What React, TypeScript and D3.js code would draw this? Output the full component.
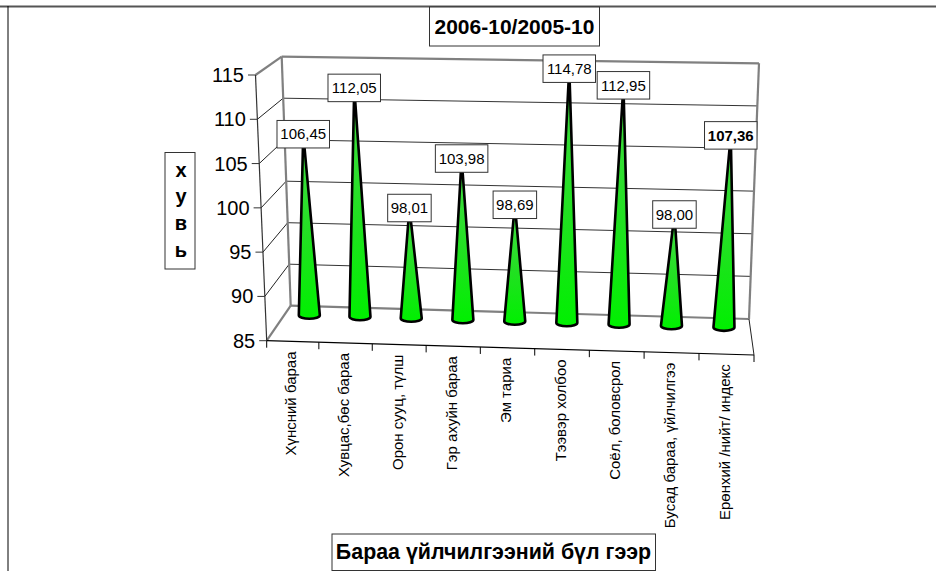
import React, { useEffect, useRef } from 'react';
import * as d3 from 'd3';

const categories = [
  'Хүнсний бараа',
  'Хувцас,бөс бараа',
  'Орон сууц, түлш',
  'Гэр ахуйн бараа',
  'Эм тариа',
  'Тээвэр холбоо',
  'Соёл, боловсрол',
  'Бусад бараа, үйлчилгээ',
  'Ерөнхий /нийт/ индекс',
];
const values = [106.45, 112.05, 98.01, 103.98, 98.69, 114.78, 112.95, 98.0, 107.36];
const valueLabels = ['106,45', '112,05', '98,01', '103,98', '98,69', '114,78', '112,95', '98,00', '107,36'];
const yTicks = [85, 90, 95, 100, 105, 110, 115];
const yTitleLetters = ['х', 'у', 'в', 'ь'];
const chartTitle = '2006-10/2005-10';
const xTitle = 'Бараа үйлчилгээний бүл гээр';

const FONT = '"Liberation Sans", Arial, sans-serif';

const App: React.FC = () => {
  const svgRef = useRef<SVGSVGElement>(null);

  useEffect(() => {
    if (!svgRef.current) return;
    const svg = d3.select(svgRef.current);
    svg.selectAll('*').remove();

    // corners of the 3D box as the picture shows them
    const fl = { b: [266.7, 340.7], t: [255.5, 75] };
    const fr = { b: [754, 355], t: [765, 90] };
    const bl = { b: [290.7, 305.7], t: [281.7, 56.7] };
    const br = { b: [749, 319], t: [759, 63.3] };

    // slight power scale for the perspective of the category axis
    const xScale = d3.scalePow().exponent(1.017).domain([0, categories.length]).range([0, 1]);
    const yScale = d3.scaleLinear().domain([85, 115]).range([0, 1]);
    const mix = d3.interpolateNumber;

    const project = (cat: number, val: number, depth: number): [number, number] => {
      const u = xScale(cat);
      const v = yScale(val);
      const at = (k: number) => {
        const front = mix(mix(fl.b[k], fl.t[k])(v), mix(fr.b[k], fr.t[k])(v))(u);
        const back = mix(mix(bl.b[k], bl.t[k])(v), mix(br.b[k], br.t[k])(v))(u);
        return mix(front, back)(depth);
      };
      return [at(0), at(1)];
    };

    const seg = (a: [number, number], b: [number, number], color: string, w: number) =>
      svg.append('line')
        .attr('x1', a[0]).attr('y1', a[1])
        .attr('x2', b[0]).attr('y2', b[1])
        .attr('stroke', color)
        .attr('stroke-width', w);

    const box = (x: number, y: number, w: number, h: number) =>
      svg.append('rect')
        .attr('x', x).attr('y', y)
        .attr('width', w).attr('height', h)
        .attr('fill', '#fff')
        .attr('stroke', '#333')
        .attr('stroke-width', 1);

    const label = (s: string, x: number, y: number, size: number, bold = false) =>
      svg.append('text')
        .attr('x', x).attr('y', y)
        .attr('text-anchor', 'middle')
        .attr('font-family', FONT)
        .attr('font-size', size)
        .attr('font-weight', bold ? 'bold' : 'normal')
        .attr('fill', '#000')
        .text(s);

    const defs = svg.append('defs');
    const grad = defs.append('linearGradient')
      .attr('id', 'coneFill')
      .attr('x1', 0).attr('y1', 0).attr('x2', 0).attr('y2', 1);
    grad.append('stop').attr('offset', '0%').attr('stop-color', '#46dc46');
    grad.append('stop').attr('offset', '55%').attr('stop-color', '#22e022');
    grad.append('stop').attr('offset', '100%').attr('stop-color', '#00f000');

    // page frame
    seg([0, 6.5], [936, 6.5], '#555', 2);
    seg([8, 6], [8, 571], '#000', 1);

    const n = categories.length;

    // grid lines on the back and side walls
    yTicks.slice(1, -1).forEach(t => {
      seg(project(0, t, 0), project(0, t, 1), '#222', 1);
      seg(project(0, t, 1), project(n, t, 1), '#333', 1);
    });

    // walls and floor
    const wall = '#808080';
    seg(project(0, 115, 0), project(0, 115, 1), wall, 2.2);
    seg(project(0, 115, 1), project(n, 115, 1), wall, 2.2);
    seg(project(0, 85, 1), project(0, 115, 1), wall, 2.2);
    seg(project(n, 85, 1), project(n, 115, 1), wall, 2.2);
    seg(project(0, 85, 0), project(0, 85, 1), wall, 2.2);
    seg(project(0, 85, 1), project(n, 85, 1), wall, 2.2);
    seg(project(n, 85, 0), project(n, 85, 1), '#222', 1);

    // front axes and ticks
    seg(project(0, 85, 0), project(0, 115, 0), '#333', 1.2);
    seg(project(0, 85, 0), project(n, 85, 0), '#000', 1.2);
    yTicks.forEach(t => {
      const p = project(0, t, 0);
      seg([p[0] - 7.5, p[1]], p, '#333', 1);
      svg.append('text')
        .attr('x', p[0] - 11.5).attr('y', p[1] + 7)
        .attr('text-anchor', 'end')
        .attr('font-family', FONT)
        .attr('font-size', 20)
        .attr('fill', '#000')
        .text(t);
    });
    d3.range(n + 1).forEach(i => {
      const p = project(i, 85, 0);
      seg(p, [p[0], p[1] + 7], '#000', 1);
    });

    // cones
    const rx = 10.5;
    const ry = 3.6;
    values.forEach((v, i) => {
      const base = project(i + 0.5, 85, 0.75);
      const tip = project(i + 0.5, v, 0.75);
      const d = `M${tip[0]},${tip[1]}L${base[0] - rx},${base[1]}`
        + `A${rx},${ry} 0 0 0 ${base[0] + rx},${base[1]}Z`;
      svg.append('path')
        .attr('d', d)
        .attr('fill', 'url(#coneFill)')
        .attr('stroke', '#000')
        .attr('stroke-width', 2.6)
        .attr('stroke-linejoin', 'round');
    });

    // value labels sit on the cone tips
    values.forEach((v, i) => {
      const tip = project(i + 0.5, v, 0.75);
      const w = valueLabels[i].length > 5 ? 52.5 : 43.5;
      box(tip[0] - w / 2, tip[1] - 13.5, w, 27.5);
      label(valueLabels[i], tip[0], tip[1] + 5.5, 15, i === n - 1);
    });

    // category labels, read bottom to top
    categories.forEach((c, i) => {
      const p = project(i + 0.5, 85, 0);
      svg.append('text')
        .attr('transform', `translate(${p[0] + 3.5},${p[1] + 10}) rotate(-90)`)
        .attr('text-anchor', 'end')
        .attr('font-family', FONT)
        .attr('font-size', 15)
        .attr('fill', '#000')
        .text(c);
    });

    // titles
    box(429.5, 7, 170, 39);
    label(chartTitle, 514.5, 33.5, 21, true);

    box(165, 152.5, 30, 116.5);
    yTitleLetters.forEach((l, i) => label(l, 181, 176.7 + i * 26.7, 20, true));

    box(332, 534, 323.5, 36.5);
    label(xTitle, 493.5, 559, 21.4, true);
  }, []);

  return (
    <svg
      ref={svgRef}
      width={936}
      height={571}
      style={{ position: 'absolute', left: 0, top: 0, background: '#fff' }}
    />
  );
};

export default App;
